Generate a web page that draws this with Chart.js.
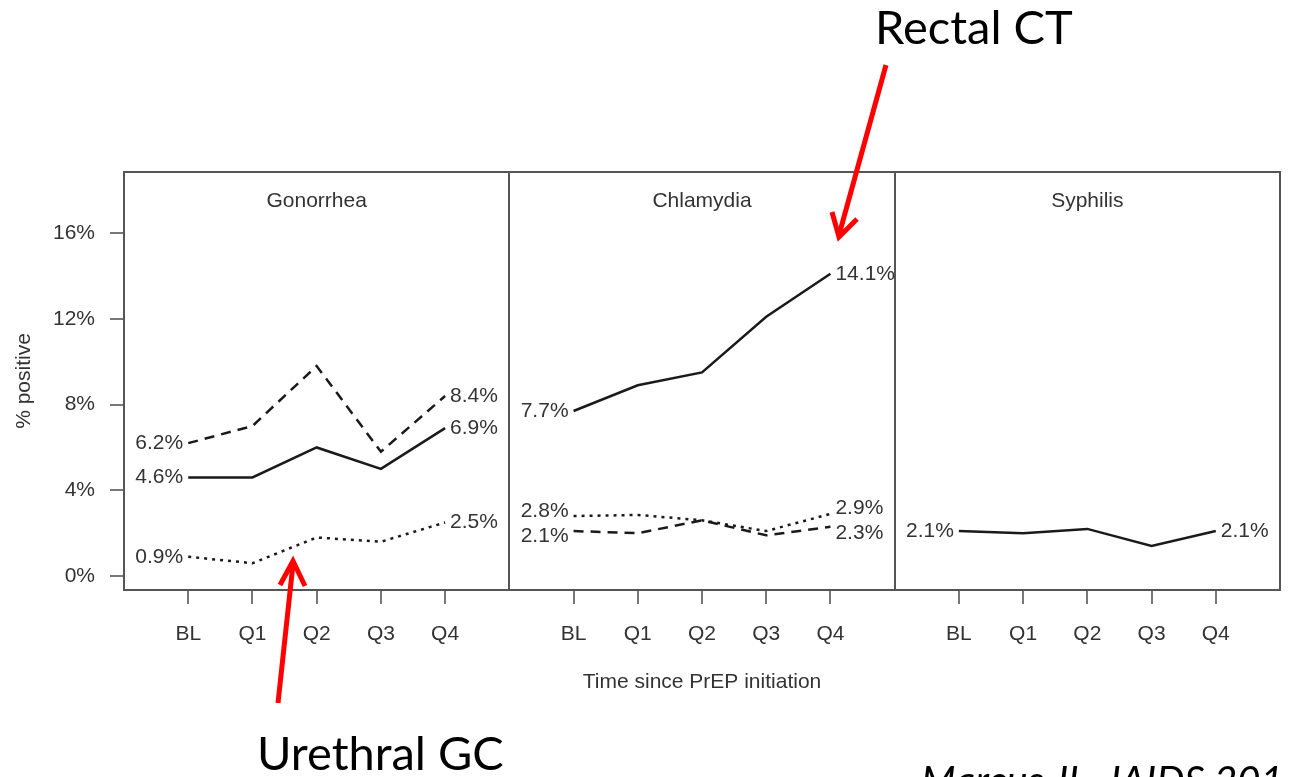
<!DOCTYPE html>
<html>
<head>
<meta charset="utf-8">
<script src="https://cdn.jsdelivr.net/npm/chart.js@4.4.1/dist/chart.umd.min.js"></script>
<style>
body { margin: 0; background: #fff; }
#wrap { position: relative; width: 1289px; height: 777px; overflow: hidden; }
#chart { position: absolute; left: 0; top: 0; }
#notes { position: absolute; left: 0; top: 0; }
#notes text { font-family: Lato, "Open Sans", sans-serif; fill: #000; }
</style>
</head>
<body>
<div id="wrap">
<canvas id="chart" width="1289" height="777"></canvas>
<svg id="notes" width="1289" height="777">
    <text x="875" y="44" font-size="47">Rectal CT</text>
    <text x="257" y="770" font-size="47">Urethral GC</text>
    <text x="921" y="795" font-size="40" font-style="italic">Marcus JL, JAIDS 2016</text>
    <g stroke="#ff0000" stroke-width="5" fill="none" stroke-linecap="butt">
        <line x1="886" y1="65" x2="839" y2="235" />
        <polyline points="832,212 839,237 857,219" />
        <line x1="278" y1="703" x2="293" y2="564" />
        <polyline points="280,585 293,561 305,586" />
    </g>
</svg>
</div>
<script>
// data (% positive)
var timepoints = ['BL', 'Q1', 'Q2', 'Q3', 'Q4'];
var panelTitles = ['Gonorrhea', 'Chlamydia', 'Syphilis'];
var yTicks = [0, 4, 8, 12, 16];

var gonoRectal = [4.6, 4.6, 6.0, 5.0, 6.9];
var gonoPharyngeal = [6.2, 7.0, 9.8, 5.8, 8.4];
var gonoUrethral = [0.9, 0.6, 1.8, 1.6, 2.5];
var chlamRectal = [7.7, 8.9, 9.5, 12.1, 14.1];
var chlamPharyngeal = [2.1, 2.0, 2.6, 1.9, 2.3];
var chlamUrethral = [2.8, 2.85, 2.6, 2.1, 2.9];
var syphilisValues = [2.1, 2.0, 2.2, 1.4, 2.1];

var FONT = '"Liberation Sans", Arial, sans-serif';
var TEXT = '#333';

function panelData(values, panel) {
    return values.map(function (v, i) { return { x: panel * 6 + i, y: v }; });
}
function series(label, values, panel, dash) {
    return {
        label: label,
        data: panelData(values, panel),
        panel: panel,
        borderColor: '#1a1a1a',
        borderWidth: 2.5,
        borderDash: dash,
        pointRadius: 0,
        tension: 0,
        fill: false
    };
}
var SOLID = [], DASHED = [10, 7], DOTTED = [3, 5];

function isSeparator(v) { return v % 6 === 5; }

// box, panel titles and end-point labels
var figurePlugin = {
    id: 'figure',
    afterDatasetsDraw: function (chart) {
        var ctx = chart.ctx, a = chart.chartArea;
        var xs = chart.scales.x, ys = chart.scales.y;
        ctx.save();
        ctx.strokeStyle = '#555';
        ctx.lineWidth = 2;
        ctx.strokeRect(a.left, a.top, a.right - a.left, a.bottom - a.top);

        ctx.font = '21px ' + FONT;
        ctx.fillStyle = TEXT;
        ctx.textBaseline = 'middle';
        ctx.textAlign = 'center';
        panelTitles.forEach(function (t, p) {
            ctx.fillText(t, xs.getPixelForValue(p * 6 + 2), a.top + 29);
        });

        panelTitles.forEach(function (t, p) {
            var left = [], right = [];
            chart.data.datasets.forEach(function (ds) {
                if (ds.panel !== p) return;
                var first = ds.data[0], last = ds.data[ds.data.length - 1];
                left.push({ y: ys.getPixelForValue(first.y), text: first.y.toFixed(1) + '%' });
                right.push({ y: ys.getPixelForValue(last.y), text: last.y.toFixed(1) + '%' });
            });
            [left, right].forEach(function (list) {
                list.sort(function (m, n) { return m.y - n.y; });
                for (var i = 1; i < list.length; i++) {
                    var d = list[i].y - list[i - 1].y;
                    if (d < 25) {
                        var s = (25 - d) / 2;
                        list[i - 1].y -= s;
                        list[i].y += s;
                    }
                }
            });
            ctx.textAlign = 'right';
            left.forEach(function (l) {
                ctx.fillText(l.text, xs.getPixelForValue(p * 6) - 5, l.y);
            });
            ctx.textAlign = 'left';
            right.forEach(function (l) {
                ctx.fillText(l.text, xs.getPixelForValue(p * 6 + 4) + 5, l.y);
            });
        });
        ctx.restore();
    }
};

Chart.defaults.font.family = FONT;
Chart.defaults.font.size = 21;
Chart.defaults.color = TEXT;

new Chart(document.getElementById('chart'), {
    type: 'line',
    data: {
        datasets: [
            series('Gonorrhea rectal', gonoRectal, 0, SOLID),
            series('Gonorrhea pharyngeal', gonoPharyngeal, 0, DASHED),
            series('Gonorrhea urethral', gonoUrethral, 0, DOTTED),
            series('Chlamydia rectal', chlamRectal, 1, SOLID),
            series('Chlamydia pharyngeal', chlamPharyngeal, 1, DASHED),
            series('Chlamydia urethral', chlamUrethral, 1, DOTTED),
            series('Syphilis', syphilisValues, 2, SOLID)
        ]
    },
    options: {
        responsive: false,
        animation: false,
        layout: { padding: { left: 0, top: 172, right: 9, bottom: 82 } },
        plugins: { legend: { display: false }, tooltip: { enabled: false } },
        scales: {
            x: {
                type: 'linear',
                min: -1,
                max: 17,
                afterBuildTicks: function (s) {
                    var t = [];
                    for (var v = 0; v <= 16; v++) t.push({ value: v });
                    s.ticks = t;
                },
                afterFit: function (s) { s.height = 105; },
                border: { display: false },
                grid: {
                    lineWidth: 2,
                    tickLength: 14,
                    color: function (c) { return c.tick && isSeparator(c.tick.value) ? '#555' : 'rgba(0,0,0,0)'; },
                    tickColor: function (c) { return c.tick && isSeparator(c.tick.value) ? 'rgba(0,0,0,0)' : '#777'; }
                },
                ticks: {
                    autoSkip: false,
                    maxRotation: 0,
                    padding: 18,
                    callback: function (v) {
                        var i = v % 6;
                        return i < 5 ? timepoints[i] : '';
                    }
                },
                title: { display: true, text: 'Time since PrEP initiation', padding: { top: 6, bottom: 0 } }
            },
            y: {
                type: 'linear',
                min: -0.65,
                max: 18.85,
                afterBuildTicks: function (s) {
                    s.ticks = yTicks.map(function (v) { return { value: v }; });
                },
                afterFit: function (s) { s.width = 124; },
                border: { display: false },
                grid: { drawOnChartArea: false, tickLength: 14, lineWidth: 2, color: '#777' },
                ticks: { padding: 15, callback: function (v) { return v + '%'; } },
                title: { display: true, text: '% positive', padding: { top: 12, bottom: 0 } }
            }
        }
    },
    plugins: [figurePlugin]
});
</script>
</body>
</html>
